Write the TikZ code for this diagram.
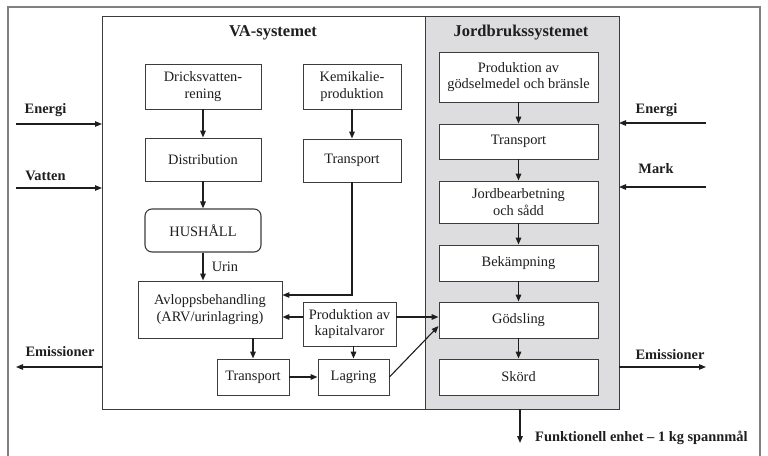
\documentclass[tikz,border=0pt]{standalone}
\usepackage{fontspec}
\setmainfont{Liberation Serif}
\usetikzlibrary{arrows.meta,calc}
\definecolor{lc}{RGB}{60,60,60}
\definecolor{fc}{RGB}{128,128,128}
\definecolor{gf}{RGB}{221,221,223}
\definecolor{tc}{RGB}{30,30,30}
\tikzset{
  box/.style={draw=lc,line width=0.9pt,fill=white,inner sep=1pt,align=center,text=tc,
    font=\fontsize{14.4}{16.5}\selectfont},
  arr/.style={draw=tc,line width=1.5pt,-{Triangle[length=7pt,width=5.5pt]}},
  thinarr/.style={draw=tc,line width=1.1pt,-{Triangle[length=7pt,width=5.5pt]}},
  lbl/.style={text=tc,font=\bfseries\fontsize{14.4}{16.5}\selectfont,inner sep=0pt},
  ttl/.style={text=tc,font=\bfseries\fontsize{16.5}{18}\selectfont,inner sep=0pt}
}
\begin{document}
\begin{tikzpicture}[x=1pt,y=-1pt]
\useasboundingbox (0,0) rectangle (768,455);
% outer frame
\draw[fc,line width=1.4pt] (8,460) -- (8,7) -- (760,7) -- (760,460);
% system frames
\draw[lc,line width=0.9pt,fill=white] (102,16) rectangle (425,409);
\draw[lc,line width=0.9pt,fill=gf] (425,16) rectangle (619,409);
\node[ttl] (tva) at (273,33) {VA-systemet};
\node[ttl] (tjb) at (521,33) {Jordbrukssystemet};
% VA boxes
\node[box,minimum width=116pt,minimum height=45pt] (drick) at (203,86.5) {Dricksvatten-\\rening};
\node[box,minimum width=116pt,minimum height=43pt] (dist) at (203,159.5) {Distribution};
\node[box,minimum width=116pt,minimum height=43pt,rounded corners=7pt,line width=1.1pt] (hush) at (203,230.5) {HUSHÅLL};
\node[box,minimum width=98pt,minimum height=45pt] (kemi) at (352,86.5) {Kemikalie-\\produktion};
\node[box,minimum width=98pt,minimum height=43pt] (transA) at (352,160.5) {Transport};
\node[box,minimum width=144pt,minimum height=57pt] (avlopp) at (210,309.5) {Avloppsbehandling\\(ARV/urinlagring)};
\node[box,minimum width=93pt,minimum height=44pt] (kapital) at (349.5,324) {Produktion av\\kapitalvaror};
\node[box,minimum width=72pt,minimum height=36pt] (transB) at (253,377) {Transport};
\node[box,minimum width=71pt,minimum height=36pt] (lagring) at (353.5,377) {Lagring};
% Jordbruk boxes
\node[box,minimum width=159pt,minimum height=50pt] (prodg) at (518.5,77) {Produktion av\\gödselmedel och bränsle};
\node[box,minimum width=159pt,minimum height=35pt] (transC) at (518.5,141.5) {Transport};
\node[box,minimum width=159pt,minimum height=42pt] (jord) at (518.5,202) {Jordbearbetning\\och sådd};
\node[box,minimum width=159pt,minimum height=36pt] (bek) at (518.5,263) {Bekämpning};
\node[box,minimum width=159pt,minimum height=36pt] (gods) at (518.5,320) {Gödsling};
\node[box,minimum width=159pt,minimum height=36pt] (skord) at (518.5,377) {Skörd};
% VA arrows
\draw[arr] (drick) -- (dist);
\draw[arr] (dist) -- (hush);
\draw[arr] (hush) -- node[right=8pt,text=tc,font=\fontsize{14.4}{16.5}\selectfont,inner sep=0pt] (urin) {Urin} (hush.south |- avlopp.north);
\draw[arr] (kemi) -- (transA);
\draw[thinarr] (transA.south) |- ([yshift=14.5pt]avlopp.east);
\draw[arr] ([yshift=7pt]kapital.west) -- ([yshift=7pt]kapital.west -| avlopp.east);
\draw[arr] ([yshift=7pt]kapital.east) -- ([yshift=7pt]kapital.east -| gods.west);
\draw[arr] (avlopp.south -| transB.north) -- (transB.north);
\draw[arr] (transB) -- (lagring);
\draw[arr] (kapital.south -| lagring.north) -- (lagring.north);
\draw[thinarr] (lagring.east) -- ([yshift=-6pt]gods.west);
% Jordbruk arrows
\draw[arr] (prodg) -- (transC);
\draw[arr] (transC) -- (jord);
\draw[arr] (jord) -- (bek);
\draw[arr] (bek) -- (gods);
\draw[arr] (gods) -- (skord);
% outside flows
\coordinate (eL) at (16,124); \coordinate (eLe) at (102,124);
\coordinate (vL) at (16,188); \coordinate (vLe) at (102,188);
\coordinate (mL) at (16,367); \coordinate (mLs) at (102,367);
\coordinate (eR) at (706,123); \coordinate (eRe) at (619,123);
\coordinate (kR) at (706,187); \coordinate (kRe) at (619,187);
\coordinate (mR) at (706,367); \coordinate (mRs) at (619,367);
\coordinate (fS) at (520,409); \coordinate (fE) at (520,443);
\draw[thinarr] (eL) -- (eLe);
\draw[thinarr] (vL) -- (vLe);
\draw[thinarr] (mLs) -- (mL);
\draw[thinarr] (eR) -- (eRe);
\draw[thinarr] (kR) -- (kRe);
\draw[thinarr] (mRs) -- (mR);
\draw[arr] (fS) -- (fE);
\node[lbl] (lE) at (45.5,110) {Energi};
\node[lbl] (lV) at (45.5,176) {Vatten};
\node[lbl] (lM) at (60,352) {Emissioner};
\node[lbl] (rE) at (656.5,110) {Energi};
\node[lbl] (rK) at (656,169) {Mark};
\node[lbl] (rM) at (670,355) {Emissioner};
\node[lbl,anchor=west] (fu) at (535,438) {Funktionell enhet – 1 kg spannmål};
\end{tikzpicture}
\end{document}
